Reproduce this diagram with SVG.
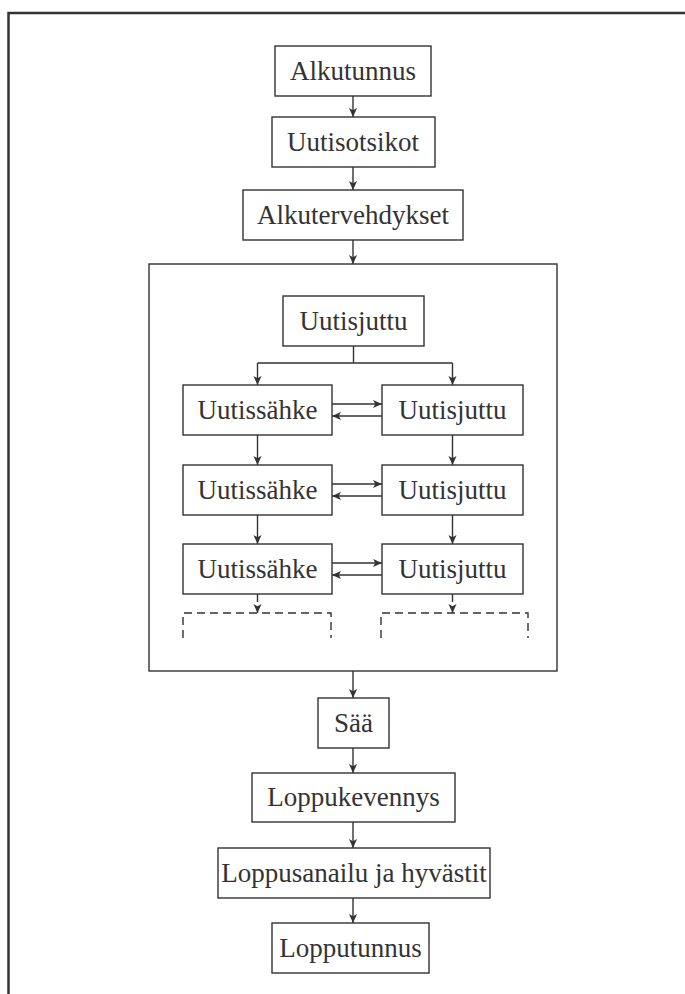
<svg xmlns="http://www.w3.org/2000/svg" width="685" height="994" viewBox="0 0 685 994">
<defs>
<marker id="ah" viewBox="0 0 10 10" refX="10" refY="5" markerWidth="9" markerHeight="9" markerUnits="userSpaceOnUse" orient="auto">
<path d="M0,0.5 L10,5 L0,9.5 L2.5,5 Z" fill="#333"/>
</marker>
</defs>
<style>
.box{fill:#fff;stroke:#333;stroke-width:1.4}
.lbl{font-family:"Liberation Serif","Times New Roman",serif;font-size:27px;fill:#333;text-anchor:middle}
.c{fill:none;stroke:#333;stroke-width:1.4}
.a{marker-end:url(#ah)}
.d{fill:none;stroke:#333;stroke-width:1.4;stroke-dasharray:8 5}
</style>
<rect width="685" height="994" fill="#fff"/>
<path d="M8.5,994 V13 H685" fill="none" stroke="#333" stroke-width="2.5"/>
<g id="frame"><rect class="box" x="149" y="264" width="408" height="407"/></g>
<g id="alkutunnus"><rect class="box" x="275" y="46" width="156" height="50"/><text class="lbl" x="353" y="80">Alkutunnus</text></g>
<g id="uutisotsikot"><rect class="box" x="272" y="117" width="163" height="50"/><text class="lbl" x="353" y="151">Uutisotsikot</text></g>
<g id="alkutervehdykset"><rect class="box" x="243" y="190" width="220" height="50"/><text class="lbl" x="353" y="224">Alkutervehdykset</text></g>
<g id="uutisjuttu0"><rect class="box" x="283" y="296" width="141" height="50"/><text class="lbl" x="353.5" y="330">Uutisjuttu</text></g>
<g id="sahke1"><rect class="box" x="183" y="385" width="149" height="50"/><text class="lbl" x="257.5" y="419">Uutissähke</text></g>
<g id="juttu1"><rect class="box" x="382" y="385" width="141" height="50"/><text class="lbl" x="452.5" y="419">Uutisjuttu</text></g>
<g id="sahke2"><rect class="box" x="183" y="465" width="149" height="50"/><text class="lbl" x="257.5" y="499">Uutissähke</text></g>
<g id="juttu2"><rect class="box" x="382" y="465" width="141" height="50"/><text class="lbl" x="452.5" y="499">Uutisjuttu</text></g>
<g id="sahke3"><rect class="box" x="183" y="544" width="149" height="50"/><text class="lbl" x="257.5" y="578">Uutissähke</text></g>
<g id="juttu3"><rect class="box" x="382" y="544" width="141" height="50"/><text class="lbl" x="452.5" y="578">Uutisjuttu</text></g>
<g id="more-left"><path class="d" d="M183,638 V613 H331 V638"/></g>
<g id="more-right"><path class="d" d="M381,638 V613 H528 V638"/></g>
<g id="saa"><rect class="box" x="318" y="698" width="71" height="50"/><text class="lbl" x="353.5" y="732">Sää</text></g>
<g id="loppukevennys"><rect class="box" x="252" y="773" width="203" height="49"/><text class="lbl" x="353.5" y="806">Loppukevennys</text></g>
<g id="loppusanailu"><rect class="box" x="218" y="848" width="272" height="50"/><text class="lbl" x="354" y="882">Loppusanailu ja hyvästit</text></g>
<g id="lopputunnus"><rect class="box" x="272" y="923" width="157" height="50"/><text class="lbl" x="350.5" y="957">Lopputunnus</text></g>
<g id="connectors">
<path class="c a" d="M353,96 V117"/>
<path class="c a" d="M353,167 V190"/>
<path class="c a" d="M353,240 V264"/>
<path class="c" d="M353.5,346 V363 M257.5,363 H452.5"/>
<path class="c a" d="M257.5,363 V385"/>
<path class="c a" d="M452.5,363 V385"/>
<path class="c a" d="M332,404 H382"/>
<path class="c a" d="M382,416 H332"/>
<path class="c a" d="M257.5,435 V465"/>
<path class="c a" d="M452.5,435 V465"/>
<path class="c a" d="M332,484 H382"/>
<path class="c a" d="M382,496 H332"/>
<path class="c a" d="M257.5,515 V544"/>
<path class="c a" d="M452.5,515 V544"/>
<path class="c a" d="M332,563 H382"/>
<path class="c a" d="M382,575 H332"/>
<path class="d a" d="M257.5,594 V613" stroke-dasharray="5 4"/>
<path class="d a" d="M452.5,594 V613" stroke-dasharray="5 4"/>
<path class="c a" d="M353,671 V698"/>
<path class="c a" d="M353,748 V773"/>
<path class="c a" d="M353,822 V848"/>
<path class="c a" d="M353,898 V923"/>
</g>
</svg>
